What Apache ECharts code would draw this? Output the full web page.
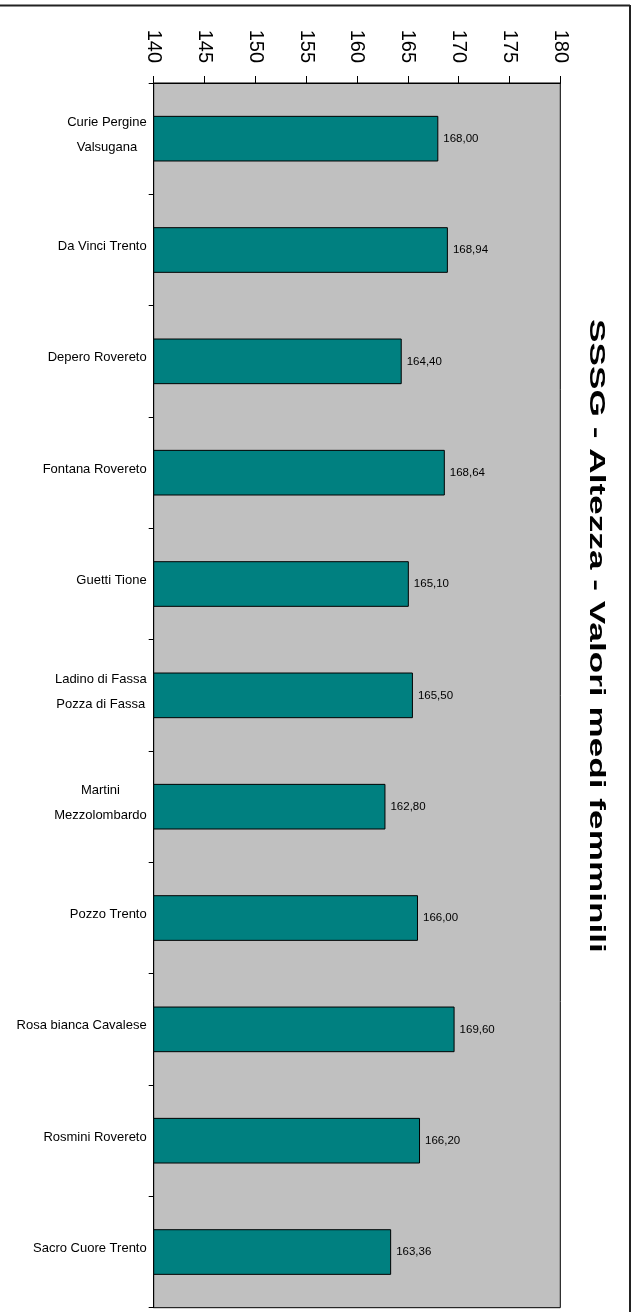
<!DOCTYPE html>
<html>
<head>
<meta charset="utf-8">
<script src="https://cdn.jsdelivr.net/npm/echarts@6/dist/echarts.min.js"></script>
<style>
html,body{margin:0;padding:0;background:#fff;}
#chart{width:637px;height:1312px;}
</style>
</head>
<body>
<div id="chart"></div>
<script>
const titleText = 'SSSG - Altezza - Valori medi femminili';
const categories = [
  'Curie Pergine\nValsugana',
  'Da Vinci Trento',
  'Depero Rovereto',
  'Fontana Rovereto',
  'Guetti Tione',
  'Ladino di Fassa\nPozza di Fassa',
  'Martini\nMezzolombardo',
  'Pozzo Trento',
  'Rosa bianca Cavalese',
  'Rosmini Rovereto',
  'Sacro Cuore Trento'
];
const values = [168.00, 168.94, 164.40, 168.64, 165.10, 165.50, 162.80, 166.00, 169.60, 166.20, 163.36];
const axisMin = 140;
const axisMax = 180;
const axisStep = 5;

const chart = echarts.init(document.getElementById('chart'), null, {renderer: 'canvas'});
const FONT = '"Liberation Sans", Arial, sans-serif';

chart.setOption({
  backgroundColor: '#ffffff',
  animation: false,
  grid: {
    left: 153.7, right: 76.7, top: 83, bottom: 4.3,
    show: true, backgroundColor: '#c0c0c0', borderColor: '#000', borderWidth: 1
  },
  xAxis: {
    type: 'value', position: 'top',
    min: axisMin, max: axisMax, interval: axisStep,
    axisLine: {show: true, lineStyle: {color: '#000', width: 1}},
    axisTick: {show: true, length: 7, inside: false, lineStyle: {color: '#000'}},
    splitLine: {show: false},
    axisLabel: {
      rotate: 90, margin: 20, color: '#000', fontFamily: FONT, fontSize: 20
    }
  },
  yAxis: {
    type: 'category', inverse: true, data: categories,
    axisLine: {show: true, lineStyle: {color: '#000', width: 1}},
    axisTick: {show: true, length: 5, inside: false, lineStyle: {color: '#000'}},
    splitLine: {show: false},
    axisLabel: {
      margin: 7, color: '#000',
      formatter: function (v) {
        return v.split('\n').map(function (s) { return '{a|' + s + '}'; }).join('\n');
      },
      rich: {
        a: {align: 'center', fontFamily: FONT, fontSize: 13, lineHeight: 25, color: '#000'}
      },
      padding: [0, 0, 7, 0]
    }
  },
  series: [{
    type: 'bar', data: values, barCategoryGap: '59%',
    itemStyle: {color: '#008080', borderColor: '#000', borderWidth: 1},
    label: {
      show: true, position: 'right', distance: 5, color: '#000',
      fontFamily: FONT, fontSize: 11.5,
      formatter: function (p) { return p.value.toFixed(2).replace('.', ','); }
    }
  }],
  graphic: [
    {type: 'line', shape: {x1: 0, y1: 5.5, x2: 630, y2: 5.5}, style: {stroke: '#222', lineWidth: 2}, silent: true},
    {type: 'line', shape: {x1: 630, y1: 5, x2: 630, y2: 1312}, style: {stroke: '#222', lineWidth: 2}, silent: true},
    {
      type: 'text', x: 596, y: 636, rotation: -Math.PI / 2, scaleX: 1.6,
      style: {text: titleText, font: 'bold 22px ' + FONT, fill: '#000', align: 'center', verticalAlign: 'middle'}
    }
  ]
});
</script>
</body>
</html>
